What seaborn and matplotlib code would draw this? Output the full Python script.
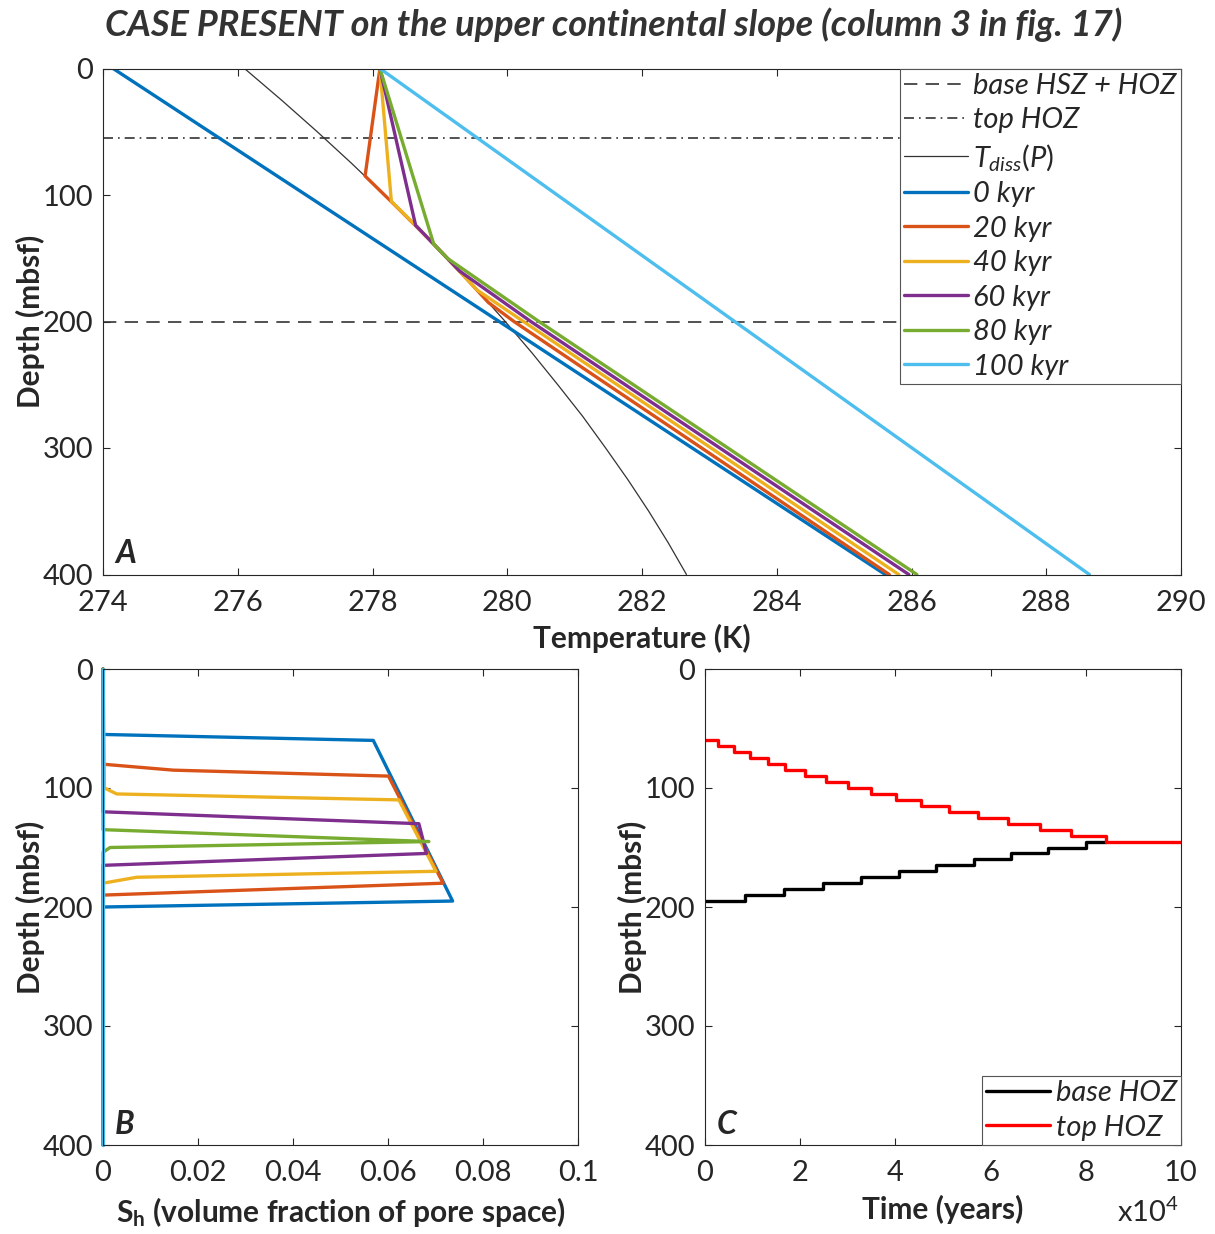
import numpy as np
import pandas as pd
import matplotlib
matplotlib.use("Agg")
import matplotlib.pyplot as plt
import seaborn as sns

# panel A: temperature profiles (K) vs depth (mbsf)
depth_tdiss = [0, 25, 50, 75, 100, 125, 150, 175, 200, 225, 250, 275, 300, 325, 350, 375, 400]
temp_tdiss = [276.10, 276.65, 277.18, 277.69, 278.18, 278.66, 279.11, 279.55, 279.97,
              280.37, 280.75, 281.12, 281.46, 281.79, 282.10, 282.39, 282.66]

depth_0k = [0, 400]
temp_0k = [274.15, 285.61]
depth_20k = [0, 85, 110, 135, 160, 185, 200, 400]
temp_20k = [278.11, 277.89, 278.37, 278.84, 279.29, 279.72, 280.10, 285.67]
depth_40k = [0, 105, 125, 150, 175, 200, 400]
temp_40k = [278.11, 278.28, 278.66, 279.11, 279.55, 280.24, 285.81]
depth_60k = [0, 124, 140, 160, 200, 400]
temp_60k = [278.11, 278.64, 278.93, 279.29, 280.35, 285.96]
depth_80k = [0, 139, 150, 200, 400]
temp_80k = [278.11, 278.91, 279.11, 280.47, 286.08]
depth_100k = [0, 400]
temp_100k = [278.11, 288.64]

base_hsz = 200
top_hoz = 55

# panel B: hydrate saturation profiles
sh_depth_0k = [0, 55, 60, 195, 200, 400]
sh_0k = [0, 0, 0.0569, 0.0736, 0, 0]
sh_depth_20k = [0, 80, 85, 90, 180, 190, 400]
sh_20k = [0, 0, 0.0148, 0.0601, 0.0716, 0, 0]
sh_depth_40k = [0, 100, 105, 110, 170, 175, 180, 400]
sh_40k = [0, 0.0003, 0.0029, 0.0623, 0.0701, 0.0071, 0, 0]
sh_depth_60k = [0, 120, 130, 155, 165, 400]
sh_60k = [0, 0, 0.0665, 0.0681, 0, 0]
sh_depth_80k = [0, 135, 145, 150, 154, 400]
sh_80k = [0, 0, 0.0686, 0.0015, 0, 0]
sh_depth_100k = [0, 400]
sh_100k = [0, 0]

# panel C: base / top of hydrate occurrence zone vs time
time_top = [0, 2800, 6150, 9440, 13150, 16800, 20990, 25400, 29950, 34840, 40080,
            45470, 51270, 57360, 63650, 70300, 76950, 84160, 100000]
depth_top = [60, 65, 70, 75, 80, 85, 90, 95, 100, 105, 110, 115, 120, 125, 130,
             135, 140, 145, 145]
time_base = [0, 8390, 16580, 24700, 32740, 40710, 48620, 56460, 64370, 72050, 79960, 84160]
depth_base = [195, 190, 185, 180, 175, 170, 165, 160, 155, 150, 145, 145]

labels = ["0 kyr", "20 kyr", "40 kyr", "60 kyr", "80 kyr", "100 kyr"]
colors = ["#0072BD", "#D95319", "#EDB120", "#7E2F8E", "#77AC30", "#4DBEEE"]

sns.set_style("ticks", {"xtick.direction": "in", "ytick.direction": "in"})
plt.rcParams["font.family"] = ["Lato", "DejaVu Sans"]
plt.rcParams["mathtext.fontset"] = "custom"
plt.rcParams["mathtext.rm"] = "Lato"
plt.rcParams["mathtext.it"] = "Lato:italic"
plt.rcParams["mathtext.bf"] = "Lato:bold"
plt.rcParams["axes.edgecolor"] = "#262626"
plt.rcParams["axes.linewidth"] = 0.8
plt.rcParams["xtick.color"] = "#262626"
plt.rcParams["ytick.color"] = "#262626"
plt.rcParams["xtick.major.size"] = 5
plt.rcParams["ytick.major.size"] = 5
plt.rcParams["xtick.major.width"] = 0.8
plt.rcParams["ytick.major.width"] = 0.8

FS = 21      # tick labels / legend
LFS = 21.5   # axis labels
W, H = 1215, 1234
fig = plt.figure(figsize=(W / 100, H / 100), dpi=100)

def rect(l, r, t, b):
    return [l / W, 1 - b / H, (r - l) / W, (b - t) / H]

def style_axes(ax):
    ax.tick_params(top=True, right=True, labelsize=FS, labelcolor="#262626")
    ax.tick_params(axis="x", pad=11)
    ax.tick_params(axis="y", pad=7)
    for s in ax.spines.values():
        s.set_visible(True)

leg_kw = dict(borderaxespad=0, prop={"style": "italic", "size": FS}, frameon=True,
              fancybox=False, edgecolor="#555555", framealpha=1, handlelength=2.2,
              handletextpad=0.18, labelspacing=0.29, borderpad=0.15)

# ---- panel A
axA = fig.add_axes(rect(103, 1181, 68.5, 574.5))
axA.axhline(base_hsz, color="#333333", lw=1.2, dashes=(8, 5), label="base HSZ + HOZ")
axA.axhline(top_hoz, color="#333333", lw=1.2, dashes=(6, 3, 1, 3), label="top HOZ")
sns.lineplot(x=temp_tdiss, y=depth_tdiss, sort=False, estimator=None, ax=axA,
             color="#333333", lw=0.9, label=r"$T_{diss}(P)$")
profiles = [(temp_0k, depth_0k), (temp_20k, depth_20k), (temp_40k, depth_40k),
            (temp_60k, depth_60k), (temp_80k, depth_80k), (temp_100k, depth_100k)]
for (t, d), c, lab in zip(profiles, colors, labels):
    sns.lineplot(x=t, y=d, sort=False, estimator=None, ax=axA, color=c, lw=2.4, label=lab)
axA.set_xlim(274, 290)
axA.set_ylim(400, 0)
axA.set_xticks(np.arange(274, 291, 2))
axA.set_yticks([0, 100, 200, 300, 400])
axA.set_xlabel("Temperature (K)", fontsize=LFS, fontweight="bold", labelpad=6)
axA.set_ylabel("Depth (mbsf)", fontsize=LFS, fontweight="bold", labelpad=-2)
style_axes(axA)
legA = axA.legend(loc="upper right", **leg_kw)
legA.get_frame().set_linewidth(0.8)
axA.text(0.011, 0.013, "A", transform=axA.transAxes, fontsize=23, fontweight="bold",
         style="italic", ha="left", va="bottom")
fig.text(614 / W, 1 - 25 / H, "CASE PRESENT on the upper continental slope (column 3 in fig. 17)",
         fontsize=26, fontweight="bold", style="italic", color="#333333",
         ha="center", va="center")

# ---- panel B
axB = fig.add_axes(rect(103, 578, 669, 1145))
sh_profiles = [(sh_0k, sh_depth_0k), (sh_20k, sh_depth_20k), (sh_40k, sh_depth_40k),
               (sh_60k, sh_depth_60k), (sh_80k, sh_depth_80k), (sh_100k, sh_depth_100k)]
for (s, d), c in zip(sh_profiles, colors):
    sns.lineplot(x=s, y=d, sort=False, estimator=None, ax=axB, color=c, lw=2.4, clip_on=False)
axB.set_xlim(0, 0.1)
axB.set_ylim(400, 0)
axB.set_xticks([0, 0.02, 0.04, 0.06, 0.08, 0.1])
axB.set_xticklabels(["0", "0.02", "0.04", "0.06", "0.08", "0.1"])
axB.set_yticks([0, 100, 200, 300, 400])
axB.set_xlabel(r"S$_\mathbf{h}$ (volume fraction of pore space)", fontsize=LFS,
               fontweight="bold", labelpad=6)
axB.set_ylabel("Depth (mbsf)", fontsize=LFS, fontweight="bold", labelpad=-2)
style_axes(axB)
axB.text(0.024, 0.013, "B", transform=axB.transAxes, fontsize=23, fontweight="bold",
         style="italic", ha="left", va="bottom")

# ---- panel C
axC = fig.add_axes(rect(705, 1181, 669, 1145))
sns.lineplot(x=time_base, y=depth_base, sort=False, estimator=None, ax=axC, color="black",
             lw=2.4, drawstyle="steps-post", label="base HOZ")
sns.lineplot(x=time_top, y=depth_top, sort=False, estimator=None, ax=axC, color="#FF0000",
             lw=2.4, drawstyle="steps-post", label="top HOZ")
axC.set_xlim(0, 100000)
axC.set_ylim(400, 0)
axC.set_xticks(np.arange(0, 100001, 20000))
axC.set_xticklabels(["0", "2", "4", "6", "8", "10"])
axC.set_yticks([0, 100, 200, 300, 400])
axC.set_xlabel("Time (years)", fontsize=LFS, fontweight="bold", labelpad=6)
axC.set_ylabel("Depth (mbsf)", fontsize=LFS, fontweight="bold", labelpad=-2)
style_axes(axC)
legC = axC.legend(loc="lower right", **leg_kw)
legC.get_frame().set_linewidth(0.8)
axC.text(0.024, 0.013, "C", transform=axC.transAxes, fontsize=23, fontweight="bold",
         style="italic", ha="left", va="bottom")
fig.text(1148 / W, 1 - 1212 / H, r"x10$^4$", fontsize=FS, ha="center", va="center",
         color="#262626")

fig.savefig("out.png", dpi=100, facecolor="white")
